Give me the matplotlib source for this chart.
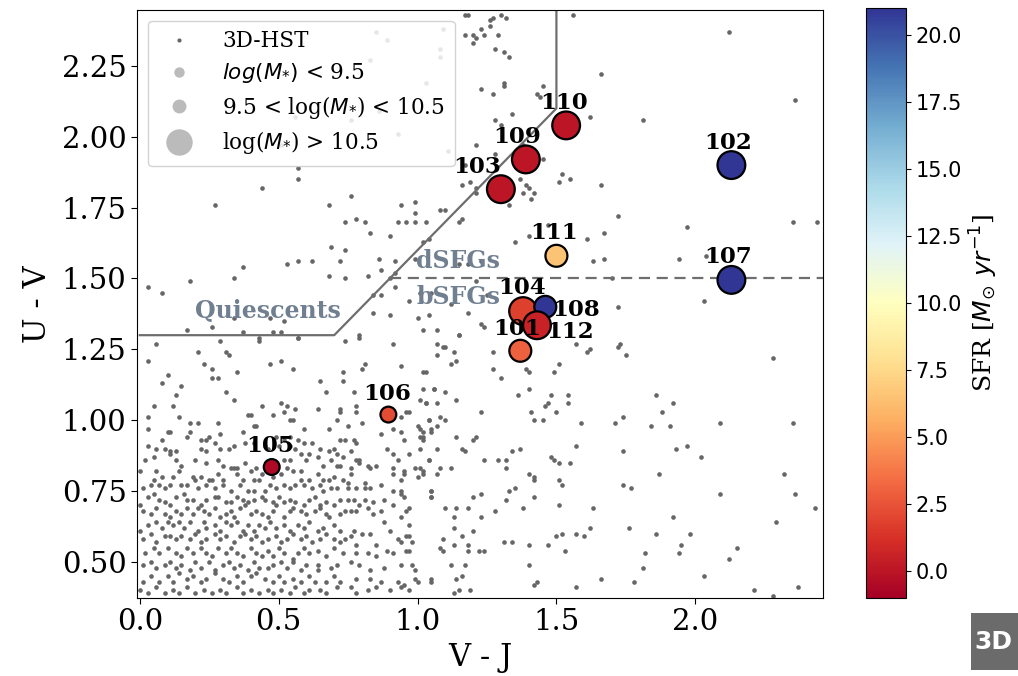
import numpy as np
import matplotlib
matplotlib.use('Agg')
import matplotlib.pyplot as plt
from matplotlib.lines import Line2D
from matplotlib.patches import Rectangle

# Galaxies of the sample: V-J, U-V, SFR and mass class (0 small, 1 mid, 2 big)
ids = ['101', '102', '103', '104', '105', '106', '107', '108', '109', '110', '111', '112']
vj = [1.37, 2.13, 1.30, 1.38, 0.475, 0.895, 2.13, 1.46, 1.39, 1.535, 1.50, 1.43]
uv = [1.245, 1.90, 1.815, 1.385, 0.835, 1.02, 1.495, 1.40, 1.92, 2.04, 1.58, 1.335]
sfr = [3.0, 21.0, 0.0, 1.8, -0.5, 2.2, 21.0, 21.0, 0.0, 0.0, 6.5, 0.6]
mass_class = [1, 2, 2, 2, 0, 0, 2, 1, 2, 2, 1, 2]

# 3D-HST field galaxies (V-J, U-V)
hst_dense = [
    (0.08,1.13),(0.15,1.12),(0.31,1.10),(0.34,1.07),(0.13,1.09),(0.67,1.10),(0.77,1.10),(0.65,1.14),(1.06,1.11),(1.02,1.11),
    (0.05,1.05),(0.12,1.05),(0.44,1.05),(0.51,1.06),(0.53,1.05),(0.56,1.04),(0.48,1.02),(0.52,1.03),(0.64,1.04),(0.72,1.04),
    (0.72,1.03),(0.78,1.05),(0.78,1.03),(0.96,1.03),(1.01,1.07),(1.03,1.06),(0.97,1.03),
    (0.03,1.01),(0.14,1.01),(0.28,0.99),(0.21,0.99),(0.18,0.99),(0.39,1.02),(0.40,1.02),(0.54,1.00),(0.55,1.00),(0.41,0.98),
    (0.42,0.98),(0.59,0.97),(0.68,0.97),(0.71,1.00),(0.75,0.98),(0.80,0.99),(0.91,1.02),(0.94,1.01),(1.04,1.00),(1.00,0.98),(1.05,0.97),
    (0.03,0.97),(0.10,0.96),(0.11,0.96),(0.17,0.94),(0.18,0.96),(0.29,0.95),(0.37,0.96),(0.25,0.94),(0.24,0.93),(0.22,0.93),
    (0.08,0.93),(0.57,0.93),(0.54,0.94),(0.49,0.94),(0.52,0.93),(0.62,0.92),(0.72,0.93),(0.74,0.93),(0.77,0.93),(0.78,0.92),
    (0.87,0.95),(0.91,0.97),(0.94,0.96),(0.95,0.93),(1.01,0.97),(1.02,0.96),(1.05,0.96),(1.01,0.94),
    (0.03,0.91),(0.06,0.90),(0.09,0.90),(0.11,0.89),(0.13,0.89),(0.22,0.90),(0.24,0.89),(0.29,0.90),(0.32,0.90),(0.27,0.92),
    (0.34,0.91),(0.38,0.92),(0.41,0.92),(0.45,0.91),(0.46,0.90),(0.50,0.91),(0.54,0.91),(0.56,0.90),(0.59,0.92),(0.61,0.88),
    (0.65,0.90),(0.68,0.89),(0.70,0.90),(0.71,0.88),(0.73,0.87),(0.76,0.89),(0.79,0.86),(0.82,0.84),(0.83,0.83),(0.85,0.84),
    (0.89,0.90),(0.91,0.88),(0.93,0.86),(0.97,0.88),(1.01,0.90),(1.04,0.86),
    (0.02,0.86),(0.05,0.87),(0.11,0.88),(0.13,0.86),(0.15,0.84),(0.20,0.86),(0.24,0.85),(0.28,0.86),(0.30,0.84),(0.34,0.83),
    (0.35,0.83),(0.38,0.85),(0.42,0.83),(0.52,0.86),(0.54,0.86),(0.58,0.88),(0.60,0.86),(0.64,0.87),(0.66,0.84),(0.69,0.86),
    (0.71,0.84),(0.72,0.84),(0.76,0.83),(0.78,0.86),(0.79,0.85),(0.91,0.83),(0.95,0.82),(0.95,0.81),(0.91,0.81),(0.99,0.83),
    (1.01,0.83),(1.02,0.82),
    (0.00,0.82),(0.06,0.82),(0.05,0.79),(0.08,0.80),(0.12,0.80),(0.14,0.82),(0.19,0.80),(0.20,0.79),(0.22,0.80),(0.25,0.79),
    (0.26,0.79),(0.28,0.81),(0.30,0.79),(0.33,0.83),(0.35,0.81),(0.37,0.79),(0.40,0.82),(0.41,0.79),(0.43,0.79),(0.44,0.81),
    (0.48,0.80),(0.51,0.81),(0.53,0.83),(0.55,0.82),(0.58,0.82),(0.58,0.79),(0.61,0.79),(0.64,0.81),(0.66,0.79),(0.68,0.79),
    (0.70,0.80),(0.73,0.79),(0.75,0.78),(0.76,0.81),(0.81,0.78),(0.87,0.77),(0.94,0.79),(1.00,0.80),
    (0.01,0.76),(0.04,0.77),(0.07,0.77),(0.09,0.76),(0.11,0.77),(0.15,0.77),(0.17,0.77),(0.21,0.76),(0.24,0.77),(0.27,0.76),
    (0.30,0.77),(0.33,0.75),(0.36,0.77),(0.39,0.75),(0.41,0.75),(0.45,0.75),(0.47,0.77),(0.49,0.76),(0.52,0.77),(0.54,0.76),
    (0.56,0.77),(0.59,0.77),(0.62,0.76),(0.65,0.77),(0.66,0.75),(0.69,0.76),(0.71,0.76),(0.75,0.76),(0.78,0.76),(0.81,0.76),
    (0.83,0.76),(0.91,0.75),(0.94,0.75),(1.05,0.75),(1.05,0.73),
    (0.00,0.70),(0.03,0.73),(0.05,0.74),(0.07,0.72),(0.09,0.71),(0.11,0.70),(0.13,0.73),(0.16,0.74),(0.17,0.72),(0.19,0.72),
    (0.22,0.70),(0.24,0.72),(0.27,0.73),(0.28,0.73),(0.31,0.71),(0.33,0.71),(0.35,0.73),(0.37,0.72),(0.39,0.71),(0.41,0.72),
    (0.44,0.73),(0.45,0.72),(0.48,0.71),(0.50,0.73),(0.52,0.71),(0.54,0.72),(0.56,0.71),(0.59,0.70),(0.61,0.72),(0.63,0.73),
    (0.65,0.70),(0.67,0.71),(0.70,0.70),(0.72,0.72),(0.75,0.72),(0.77,0.72),(0.79,0.70),(0.81,0.72),(0.84,0.71),(0.88,0.72),
    (0.91,0.70),(0.94,0.74),(0.95,0.73),
    (0.01,0.68),(0.04,0.67),(0.06,0.69),(0.09,0.67),(0.11,0.66),(0.13,0.68),(0.15,0.67),(0.17,0.69),(0.19,0.67),(0.21,0.69),
    (0.23,0.68),(0.25,0.67),(0.27,0.69),(0.29,0.66),(0.31,0.67),(0.33,0.68),(0.34,0.66),(0.36,0.69),(0.38,0.70),(0.40,0.67),
    (0.42,0.68),(0.44,0.67),(0.46,0.66),(0.48,0.68),(0.49,0.70),(0.52,0.66),(0.54,0.68),(0.55,0.69),(0.58,0.68),(0.60,0.67),
    (0.63,0.68),(0.65,0.69),(0.67,0.67),(0.68,0.66),(0.72,0.67),(0.74,0.68),(0.76,0.68),(0.78,0.68),(0.82,0.69),(0.84,0.67),
    (0.87,0.68),(0.94,0.66),(0.96,0.68),(0.97,0.69),
    (0.00,0.61),(0.03,0.63),(0.06,0.64),(0.08,0.62),(0.10,0.64),(0.12,0.63),(0.14,0.64),(0.16,0.62),(0.18,0.64),(0.21,0.61),
    (0.23,0.64),(0.24,0.62),(0.27,0.63),(0.29,0.61),(0.31,0.64),(0.33,0.63),(0.35,0.64),(0.37,0.61),(0.39,0.63),(0.41,0.61),
    (0.43,0.63),(0.45,0.62),(0.47,0.64),(0.49,0.62),(0.52,0.63),(0.54,0.61),(0.57,0.63),(0.59,0.62),(0.61,0.64),(0.64,0.61),
    (0.66,0.62),(0.70,0.63),(0.72,0.61),(0.77,0.61),(0.80,0.60),(0.83,0.60),(0.88,0.64),(0.90,0.61),(0.96,0.59),(0.97,0.63),
    (0.01,0.58),(0.04,0.60),(0.06,0.57),(0.09,0.59),(0.11,0.59),(0.13,0.58),(0.15,0.59),(0.18,0.58),(0.20,0.60),(0.22,0.57),
    (0.24,0.58),(0.27,0.60),(0.29,0.58),(0.31,0.59),(0.34,0.57),(0.36,0.59),(0.38,0.60),(0.40,0.58),(0.42,0.59),(0.44,0.57),
    (0.46,0.58),(0.49,0.59),(0.51,0.57),(0.53,0.58),(0.55,0.60),(0.58,0.58),(0.60,0.59),(0.62,0.57),(0.65,0.58),(0.67,0.60),
    (0.70,0.58),(0.72,0.57),(0.74,0.58),(0.76,0.59),(0.78,0.56),(0.85,0.56),(0.93,0.58),(0.94,0.57),(0.97,0.59),(0.98,0.57),
    (0.02,0.53),(0.05,0.55),(0.07,0.53),(0.10,0.55),(0.13,0.53),(0.15,0.52),(0.17,0.55),(0.19,0.53),(0.22,0.55),(0.24,0.53),
    (0.26,0.52),(0.28,0.55),(0.31,0.53),(0.33,0.55),(0.35,0.53),(0.37,0.52),(0.40,0.55),(0.42,0.53),(0.44,0.52),(0.46,0.54),
    (0.48,0.52),(0.50,0.55),(0.52,0.53),(0.55,0.51),(0.57,0.53),(0.59,0.55),(0.61,0.53),(0.64,0.54),(0.67,0.52),(0.70,0.55),
    (0.73,0.53),(0.78,0.53),(0.82,0.53),(0.85,0.52),(0.89,0.54),(0.91,0.53),(0.96,0.54),(0.97,0.54),
    (0.01,0.49),(0.04,0.50),(0.06,0.48),(0.09,0.49),(0.11,0.50),(0.13,0.48),(0.15,0.49),(0.18,0.47),(0.20,0.50),(0.22,0.48),
    (0.25,0.50),(0.27,0.47),(0.30,0.49),(0.32,0.50),(0.34,0.48),(0.36,0.49),(0.39,0.47),(0.41,0.50),(0.43,0.48),(0.46,0.48),
    (0.48,0.49),(0.51,0.50),(0.53,0.48),(0.55,0.50),(0.58,0.47),(0.60,0.49),(0.64,0.49),(0.64,0.47),(0.69,0.48),(0.71,0.49),
    (0.76,0.50),(0.79,0.49),(0.83,0.47),(0.88,0.48),(0.94,0.49),(0.98,0.49),(0.99,0.47),
    (0.01,0.43),(0.04,0.45),(0.07,0.43),(0.10,0.45),(0.12,0.43),(0.14,0.46),(0.17,0.44),(0.19,0.45),(0.22,0.43),(0.24,0.44),
    (0.27,0.46),(0.30,0.44),(0.32,0.43),(0.35,0.45),(0.37,0.43),(0.40,0.45),(0.42,0.46),(0.45,0.44),(0.48,0.43),(0.50,0.45),
    (0.52,0.43),(0.55,0.44),(0.58,0.43),(0.61,0.45),(0.63,0.43),(0.67,0.43),(0.70,0.45),(0.72,0.43),(0.78,0.44),(0.83,0.44),
    (0.87,0.43),(0.93,0.43),(0.95,0.42),(0.99,0.44),(1.05,0.43),
    (0.00,0.40),(0.03,0.39),(0.06,0.41),(0.09,0.39),(0.12,0.40),(0.14,0.39),(0.17,0.41),(0.20,0.39),(0.23,0.40),(0.26,0.39),
    (0.29,0.40),(0.31,0.39),(0.35,0.41),(0.37,0.39),(0.40,0.40),(0.43,0.39),(0.46,0.40),(0.48,0.39),(0.51,0.40),(0.54,0.39),
    (0.56,0.41),(0.59,0.39),(0.61,0.40),(0.65,0.40),(0.67,0.39),(0.71,0.41),(0.76,0.41),(0.78,0.39),(0.82,0.40),(0.85,0.41),
    (0.90,0.40),(0.94,0.41),(0.97,0.40),(1.00,0.43),
]

hst_mid = [
    (1.23,1.34),(1.02,1.32),(1.07,1.32),(1.15,1.30),(1.10,1.26),(1.07,1.23),(1.13,1.24),(1.12,1.20),(1.14,1.21),(1.27,1.24),
    (1.57,1.27),(1.61,1.24),(1.03,1.17),(1.27,1.18),(1.30,1.15),(1.39,1.18),(1.40,1.17),(1.49,1.17),(1.51,1.20),
    (1.06,1.11),(1.10,1.10),(1.14,1.07),(1.07,1.06),(1.03,1.06),(1.36,1.09),(1.40,1.11),(1.48,1.09),(1.47,1.06),(1.46,1.05),
    (1.54,1.09),(1.54,1.06),(1.50,1.03),(1.23,1.03),(1.41,1.03),(1.04,1.00),(1.08,1.01),(1.10,1.00),(1.42,1.00),(1.45,1.00),
    (1.07,0.98),(1.02,0.94),(1.02,0.93),(1.14,0.94),(1.20,0.93),(1.21,0.94),(1.07,0.90),(1.16,0.90),(1.17,0.89),(1.34,0.89),
    (1.37,0.90),(1.57,0.91),(1.48,0.87),(1.49,0.86),(1.51,0.85),(1.55,0.85),(1.04,0.86),(1.24,0.86),(1.29,0.86),(1.32,0.86),
    (1.32,0.83),(1.08,0.83),(1.12,0.83),(1.07,0.81),(1.02,0.81),(1.40,0.81),(1.42,0.80),(1.42,0.79),(1.51,0.79),(1.52,0.77),
    (1.05,0.75),(1.05,0.73),(1.23,0.74),(1.20,0.73),(1.33,0.75),(1.35,0.76),(1.32,0.72),(1.42,0.73),(1.10,0.69),(1.14,0.69),
    (1.18,0.69),(1.28,0.68),(1.38,0.69),(1.51,0.70),(1.13,0.66),(1.23,0.66),(1.13,0.62),(1.20,0.61),(1.09,0.58),(1.16,0.59),
    (1.18,0.56),(1.13,0.56),(1.08,0.55),(1.09,0.54),(1.18,0.54),(1.22,0.54),(1.24,0.54),(1.31,0.57),(1.34,0.57),(1.40,0.56),
    (1.47,0.56),(1.50,0.59),(1.52,0.60),(1.57,0.60),(1.53,0.54),(1.12,0.49),(1.17,0.49),(1.16,0.45),(1.14,0.44),(1.05,0.44),
    (1.40,0.49),(1.43,0.43),(1.42,0.42),(1.19,0.40),(1.15,0.40),(1.13,0.39),(1.57,0.41),
    (0.29,1.28),(0.43,1.28),(0.57,1.29),(0.74,1.28),(0.79,1.29),(0.91,1.27),(0.21,1.24),(0.31,1.24),(0.32,1.23),(0.47,1.20),
    (0.51,1.21),(0.55,1.18),(0.94,1.19),(1.02,1.17),(0.23,1.20),(0.26,1.18),(0.35,1.17),(0.26,1.15),(0.28,1.15),(0.80,1.18),
    (0.81,1.20),(0.73,1.17),(0.73,1.14),(0.03,1.21),(0.10,1.16),(0.06,1.27),
    (1.00,1.36),(1.04,1.37),(1.09,1.26),(1.07,1.27),(1.21,1.49),(1.24,1.33),(1.15,1.30),(0.97,1.42),(1.05,1.45),(1.12,1.41),
    (1.18,1.38),(1.25,1.44),(1.01,1.45),(1.70,1.50),
]

hst_sparse = [
    (1.72,1.40),(2.03,1.42),(1.62,1.25),(1.73,1.27),(1.72,1.26),(1.75,1.23),(2.28,1.22),(1.86,1.09),(1.92,1.06),(1.88,1.03),
    (1.74,1.01),(1.59,0.99),(1.71,0.99),(1.84,0.98),(1.91,0.98),(2.09,0.99),(2.35,0.99),(1.93,0.90),(1.97,0.91),(2.02,0.87),
    (1.74,0.89),(1.87,0.81),(2.32,0.81),(1.74,0.77),(1.77,0.76),(2.09,0.74),(2.36,0.74),(2.43,0.69),(1.63,0.69),(1.62,0.62),
    (1.60,0.59),(1.76,0.62),(1.92,0.66),(2.29,0.64),(1.86,0.60),(1.98,0.60),(1.95,0.56),(1.94,0.53),(2.15,0.55),(2.12,0.51),
    (1.82,0.53),(1.81,0.48),(1.66,0.44),(1.78,0.43),(2.03,0.45),(2.21,0.40),(2.28,0.38),(2.37,0.41),
    (0.57,1.89),(0.57,1.85),(0.44,1.82),(0.27,1.76),(0.68,1.76),(0.76,1.79),(0.94,1.76),(0.74,1.70),(0.78,1.71),(0.81,1.70),
    (0.83,1.66),(0.90,1.65),(0.93,1.70),(0.69,1.61),(0.74,1.60),(0.37,1.54),(0.34,1.50),(0.53,1.55),(0.57,1.56),(0.62,1.56),
    (0.72,1.56),(0.68,1.51),(0.74,1.50),(0.82,1.51),(0.86,1.57),(0.87,1.53),(0.92,1.56),(0.92,1.52),(0.90,1.50),(0.92,1.47),
    (0.84,1.44),(0.87,1.44),(0.84,1.38),(0.90,1.37),(0.03,1.47),(0.08,1.45),(0.18,1.49),(0.17,1.32),(0.26,1.33),(0.34,1.36),
    (0.47,1.36),(0.52,1.35),(0.37,1.31),(0.48,1.31),(0.51,1.31),(0.43,1.29),(0.57,1.29),(0.79,1.30),
    (1.17,2.43),(1.18,2.43),(1.27,2.42),(1.26,2.41),(1.26,2.39),(1.30,2.43),(1.32,2.42),(1.23,2.38),(1.24,2.36),(1.17,2.36),
    (1.20,2.36),(1.21,2.35),(1.20,2.33),(1.29,2.36),(1.28,2.31),(1.31,2.30),(1.33,2.28),(1.23,2.17),(1.27,2.15),(1.31,2.19),
    (1.31,2.18),(1.45,2.18),(1.43,2.15),(1.44,2.14),(1.34,2.08),(1.28,2.06),(1.30,2.04),(1.21,1.97),(1.17,1.90),(1.28,1.94),
    (1.38,1.97),(1.45,1.92),(1.52,1.87),(1.51,1.84),(1.55,1.85),(1.16,1.83),(1.19,1.84),(1.21,1.82),(1.21,1.80),(1.37,1.85),
    (1.39,1.83),(1.40,1.82),(1.38,1.80),(1.42,1.80),(1.41,1.78),(1.33,1.76),(0.99,1.77),(0.99,1.73),(0.99,1.70),(0.96,1.70),
    (1.03,1.70),(1.10,1.74),(1.08,1.74),(1.15,1.70),(1.02,1.63),(1.04,1.64),(0.99,1.57),(1.15,1.55),(1.18,1.55),(1.35,1.63),
    (1.47,1.69),(1.23,1.56),(1.16,1.71),(1.40,1.65),(1.61,1.64),(1.67,1.66),(1.63,1.56),(1.67,1.57),(1.72,1.72),
    (0.85,2.37),(0.89,2.34),(0.83,2.27),(1.03,2.19),(1.08,2.31),(1.09,2.38),(1.08,2.28),(0.86,2.09),(0.93,2.01),(1.11,1.95),
    (0.56,2.07),(0.51,1.97),(0.76,2.06),
    (1.56,2.43),(1.66,2.22),(1.62,2.07),(1.66,1.83),(1.81,2.06),(2.12,2.37),(2.36,2.13),(2.44,1.70),(1.97,1.68),(1.94,1.57),
    (2.04,1.58),(2.35,1.70),
]

hst = np.array(hst_dense + hst_mid + hst_sparse)

# UVJ selection boxes
quiescent_vj = [0.0, 0.7, 1.5, 1.5]
quiescent_uv = [1.3, 1.3, 2.1, 2.5]
split_vj = [0.9, 2.5]
split_uv = [1.5, 1.5]

size_map = {0: 130, 1: 250, 2: 400}
sizes = [size_map[m] for m in mass_class]

fig = plt.figure(figsize=(10.18, 6.76), dpi=100)
ax = fig.add_axes([0.1346, 0.1154, 0.6739, 0.8698])
cax = fig.add_axes([0.8507, 0.1154, 0.0393, 0.8728])

ax.scatter(hst[:, 0], hst[:, 1], s=11, color='#666666', linewidths=0, zorder=1)

ax.plot(quiescent_vj, quiescent_uv, color='#6e6e6e', lw=1.6, zorder=2)
ax.plot(split_vj, split_uv, color='#6e6e6e', lw=1.6, ls='--', dashes=(5, 3), zorder=2)

sc = ax.scatter(vj, uv, c=sfr, s=sizes, cmap='RdYlBu', vmin=-1, vmax=21,
                edgecolors='black', linewidths=1.6, zorder=3)

# label offsets in points
offsets = {'101': (-2, 16), '102': (-2, 16), '103': (-17, 16), '104': (-1, 16.5),
           '105': (-1, 15), '106': (-1, 15), '107': (-2, 16.5), '108': (22, -2),
           '109': (-6.5, 16), '110': (-1.5, 16), '111': (-1.5, 16.5), '112': (24, -5)}
for name, x, y in zip(ids, vj, uv):
    ax.annotate(name, (x, y), xytext=offsets[name], textcoords='offset points',
                ha='center', va='center', fontsize=16.5, fontweight='bold',
                family='DejaVu Serif', zorder=4)

region_style = dict(fontsize=17, fontweight='bold', family='DejaVu Serif',
                    color='slategray', ha='center', va='center')
ax.text(0.46, 1.384, 'Quiescents', **region_style)
ax.text(1.147, 1.563, 'dSFGs', **region_style)
ax.text(1.147, 1.433, 'bSFGs', **region_style)

ax.set_xlim(-0.01, 2.46)
ax.set_ylim(0.373, 2.447)
ax.set_xticks([0.0, 0.5, 1.0, 1.5, 2.0])
ax.set_yticks([0.5, 0.75, 1.0, 1.25, 1.5, 1.75, 2.0, 2.25])
for lab in ax.get_xticklabels() + ax.get_yticklabels():
    lab.set_family('DejaVu Serif')
    lab.set_fontsize(21)
ax.tick_params(length=4)
ax.set_xlabel('V - J', family='DejaVu Serif', fontsize=22, labelpad=4)
ax.set_ylabel('U - V', family='DejaVu Serif', fontsize=22, labelpad=6)

handles = [
    Line2D([], [], ls='', marker='o', ms=3, color='#666666', mec='none'),
    Line2D([], [], ls='', marker='o', ms=7.5, color='#bbbbbb', mec='none'),
    Line2D([], [], ls='', marker='o', ms=10, color='#bbbbbb', mec='none'),
    Line2D([], [], ls='', marker='o', ms=19, color='#bbbbbb', mec='none'),
]
labels = ['3D-HST', r'$log(M_{*})$ < 9.5', r'9.5 < log($M_{*}$) < 10.5', r'log($M_{*}$) > 10.5']
leg = ax.legend(handles, labels, loc='upper left', prop={'family': 'DejaVu Serif', 'size': 15.5},
                framealpha=0.85, labelspacing=0.4, borderpad=0.45, handletextpad=1.0,
                borderaxespad=0.5)
leg.set_zorder(5)

cb = fig.colorbar(sc, cax=cax)
cb.set_ticks([0, 2.5, 5, 7.5, 10, 12.5, 15, 17.5, 20])
cb.ax.set_yticklabels(['0.0', '2.5', '5.0', '7.5', '10.0', '12.5', '15.0', '17.5', '20.0'])
cb.ax.tick_params(labelsize=15)
cb.set_label(r'SFR [$M_{\odot}\ yr^{-1}$]', family='DejaVu Serif', fontsize=18)

fig.patches.append(Rectangle((0.9538, 0.0089), 0.0462, 0.0843, transform=fig.transFigure,
                             facecolor='#6b6b6b', edgecolor='none'))
fig.text(0.9575, 0.051, '3D', color='white', fontsize=18, fontweight='bold', va='center', ha='left')

fig.savefig('out.png', dpi=100)
